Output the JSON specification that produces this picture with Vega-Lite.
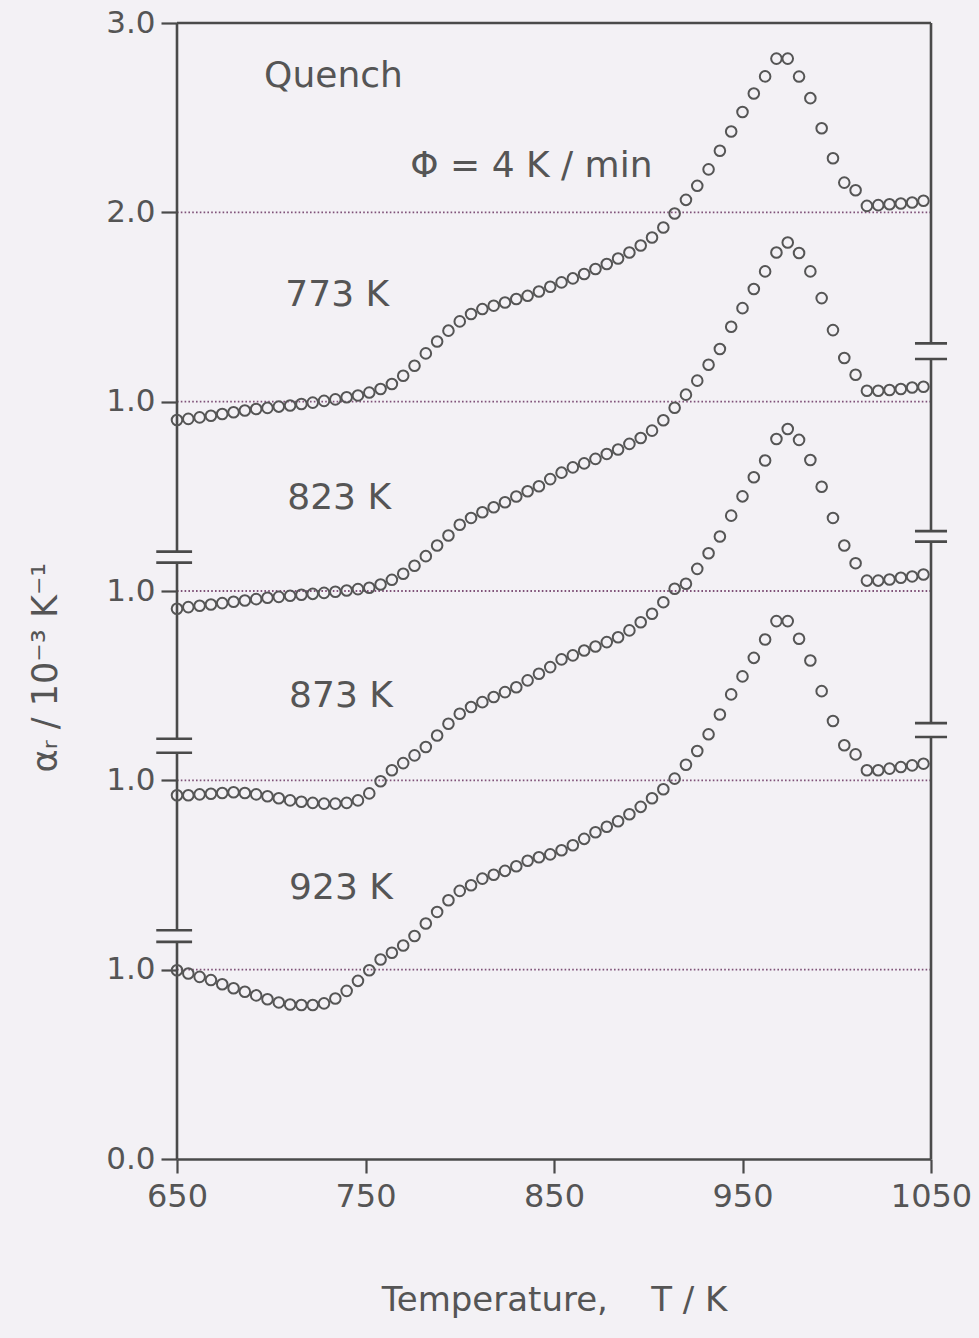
{
  "$schema": "https://vega.github.io/schema/vega-lite/v6.json",
  "width": 754,
  "height": 1136,
  "autosize": {"type": "none"},
  "padding": {"left": 177, "top": 23, "right": 48, "bottom": 179},
  "background": "#f3f1f5",
  "config": {"view": {"stroke": null}, "font": "DejaVu Sans"},
  "datasets": {
    "curves": [
      {"s":"773 K","T":650,"a":3.903},{"s":"773 K","T":656,"a":3.909},{"s":"773 K","T":662,"a":3.917},{"s":"773 K","T":668,"a":3.926},{"s":"773 K","T":674,"a":3.935},{"s":"773 K","T":680,"a":3.944},{"s":"773 K","T":686,"a":3.953},{"s":"773 K","T":692,"a":3.961},{"s":"773 K","T":698,"a":3.967},{"s":"773 K","T":704,"a":3.974},{"s":"773 K","T":710,"a":3.980},{"s":"773 K","T":716,"a":3.988},{"s":"773 K","T":722,"a":3.995},{"s":"773 K","T":728,"a":4.004},{"s":"773 K","T":734,"a":4.012},{"s":"773 K","T":740,"a":4.023},{"s":"773 K","T":746,"a":4.033},{"s":"773 K","T":752,"a":4.048},{"s":"773 K","T":758,"a":4.067},{"s":"773 K","T":764,"a":4.093},{"s":"773 K","T":770,"a":4.137},{"s":"773 K","T":776,"a":4.190},{"s":"773 K","T":782,"a":4.255},{"s":"773 K","T":788,"a":4.318},{"s":"773 K","T":794,"a":4.375},{"s":"773 K","T":800,"a":4.424},{"s":"773 K","T":806,"a":4.463},{"s":"773 K","T":812,"a":4.489},{"s":"773 K","T":818,"a":4.507},{"s":"773 K","T":824,"a":4.524},{"s":"773 K","T":830,"a":4.542},{"s":"773 K","T":836,"a":4.559},{"s":"773 K","T":842,"a":4.582},{"s":"773 K","T":848,"a":4.607},{"s":"773 K","T":854,"a":4.630},{"s":"773 K","T":860,"a":4.651},{"s":"773 K","T":866,"a":4.674},{"s":"773 K","T":872,"a":4.701},{"s":"773 K","T":878,"a":4.727},{"s":"773 K","T":884,"a":4.756},{"s":"773 K","T":890,"a":4.788},{"s":"773 K","T":896,"a":4.825},{"s":"773 K","T":902,"a":4.867},{"s":"773 K","T":908,"a":4.920},{"s":"773 K","T":914,"a":4.994},{"s":"773 K","T":920,"a":5.066},{"s":"773 K","T":926,"a":5.140},{"s":"773 K","T":932,"a":5.227},{"s":"773 K","T":938,"a":5.325},{"s":"773 K","T":944,"a":5.427},{"s":"773 K","T":950,"a":5.530},{"s":"773 K","T":956,"a":5.628},{"s":"773 K","T":962,"a":5.718},{"s":"773 K","T":968,"a":5.812},{"s":"773 K","T":974,"a":5.812},{"s":"773 K","T":980,"a":5.717},{"s":"773 K","T":986,"a":5.603},{"s":"773 K","T":992,"a":5.444},{"s":"773 K","T":998,"a":5.286},{"s":"773 K","T":1004,"a":5.157},{"s":"773 K","T":1010,"a":5.117},{"s":"773 K","T":1016,"a":5.034},{"s":"773 K","T":1022,"a":5.038},{"s":"773 K","T":1028,"a":5.043},{"s":"773 K","T":1034,"a":5.047},{"s":"773 K","T":1040,"a":5.052},{"s":"773 K","T":1046,"a":5.061},
      {"s":"823 K","T":650,"a":2.906},{"s":"823 K","T":656,"a":2.915},{"s":"823 K","T":662,"a":2.922},{"s":"823 K","T":668,"a":2.929},{"s":"823 K","T":674,"a":2.936},{"s":"823 K","T":680,"a":2.943},{"s":"823 K","T":686,"a":2.950},{"s":"823 K","T":692,"a":2.957},{"s":"823 K","T":698,"a":2.964},{"s":"823 K","T":704,"a":2.969},{"s":"823 K","T":710,"a":2.975},{"s":"823 K","T":716,"a":2.980},{"s":"823 K","T":722,"a":2.985},{"s":"823 K","T":728,"a":2.990},{"s":"823 K","T":734,"a":2.996},{"s":"823 K","T":740,"a":3.003},{"s":"823 K","T":746,"a":3.010},{"s":"823 K","T":752,"a":3.017},{"s":"823 K","T":758,"a":3.034},{"s":"823 K","T":764,"a":3.059},{"s":"823 K","T":770,"a":3.091},{"s":"823 K","T":776,"a":3.133},{"s":"823 K","T":782,"a":3.184},{"s":"823 K","T":788,"a":3.240},{"s":"823 K","T":794,"a":3.293},{"s":"823 K","T":800,"a":3.350},{"s":"823 K","T":806,"a":3.386},{"s":"823 K","T":812,"a":3.416},{"s":"823 K","T":818,"a":3.442},{"s":"823 K","T":824,"a":3.469},{"s":"823 K","T":830,"a":3.499},{"s":"823 K","T":836,"a":3.527},{"s":"823 K","T":842,"a":3.553},{"s":"823 K","T":848,"a":3.591},{"s":"823 K","T":854,"a":3.625},{"s":"823 K","T":860,"a":3.653},{"s":"823 K","T":866,"a":3.674},{"s":"823 K","T":872,"a":3.698},{"s":"823 K","T":878,"a":3.724},{"s":"823 K","T":884,"a":3.747},{"s":"823 K","T":890,"a":3.777},{"s":"823 K","T":896,"a":3.808},{"s":"823 K","T":902,"a":3.847},{"s":"823 K","T":908,"a":3.902},{"s":"823 K","T":914,"a":3.968},{"s":"823 K","T":920,"a":4.037},{"s":"823 K","T":926,"a":4.111},{"s":"823 K","T":932,"a":4.195},{"s":"823 K","T":938,"a":4.278},{"s":"823 K","T":944,"a":4.396},{"s":"823 K","T":950,"a":4.494},{"s":"823 K","T":956,"a":4.595},{"s":"823 K","T":962,"a":4.688},{"s":"823 K","T":968,"a":4.788},{"s":"823 K","T":974,"a":4.841},{"s":"823 K","T":980,"a":4.785},{"s":"823 K","T":986,"a":4.688},{"s":"823 K","T":992,"a":4.547},{"s":"823 K","T":998,"a":4.378},{"s":"823 K","T":1004,"a":4.231},{"s":"823 K","T":1010,"a":4.142},{"s":"823 K","T":1016,"a":4.058},{"s":"823 K","T":1022,"a":4.058},{"s":"823 K","T":1028,"a":4.062},{"s":"823 K","T":1034,"a":4.067},{"s":"823 K","T":1040,"a":4.075},{"s":"823 K","T":1046,"a":4.079},
      {"s":"873 K","T":650,"a":1.921},{"s":"873 K","T":656,"a":1.921},{"s":"873 K","T":662,"a":1.926},{"s":"873 K","T":668,"a":1.929},{"s":"873 K","T":674,"a":1.933},{"s":"873 K","T":680,"a":1.937},{"s":"873 K","T":686,"a":1.933},{"s":"873 K","T":692,"a":1.926},{"s":"873 K","T":698,"a":1.916},{"s":"873 K","T":704,"a":1.905},{"s":"873 K","T":710,"a":1.894},{"s":"873 K","T":716,"a":1.887},{"s":"873 K","T":722,"a":1.881},{"s":"873 K","T":728,"a":1.877},{"s":"873 K","T":734,"a":1.877},{"s":"873 K","T":740,"a":1.881},{"s":"873 K","T":746,"a":1.894},{"s":"873 K","T":752,"a":1.931},{"s":"873 K","T":758,"a":1.995},{"s":"873 K","T":764,"a":2.053},{"s":"873 K","T":770,"a":2.091},{"s":"873 K","T":776,"a":2.132},{"s":"873 K","T":782,"a":2.176},{"s":"873 K","T":788,"a":2.237},{"s":"873 K","T":794,"a":2.299},{"s":"873 K","T":800,"a":2.352},{"s":"873 K","T":806,"a":2.387},{"s":"873 K","T":812,"a":2.413},{"s":"873 K","T":818,"a":2.440},{"s":"873 K","T":824,"a":2.466},{"s":"873 K","T":830,"a":2.492},{"s":"873 K","T":836,"a":2.528},{"s":"873 K","T":842,"a":2.563},{"s":"873 K","T":848,"a":2.598},{"s":"873 K","T":854,"a":2.639},{"s":"873 K","T":860,"a":2.660},{"s":"873 K","T":866,"a":2.686},{"s":"873 K","T":872,"a":2.707},{"s":"873 K","T":878,"a":2.730},{"s":"873 K","T":884,"a":2.756},{"s":"873 K","T":890,"a":2.792},{"s":"873 K","T":896,"a":2.835},{"s":"873 K","T":902,"a":2.880},{"s":"873 K","T":908,"a":2.941},{"s":"873 K","T":914,"a":3.012},{"s":"873 K","T":920,"a":3.038},{"s":"873 K","T":926,"a":3.117},{"s":"873 K","T":932,"a":3.199},{"s":"873 K","T":938,"a":3.288},{"s":"873 K","T":944,"a":3.398},{"s":"873 K","T":950,"a":3.500},{"s":"873 K","T":956,"a":3.601},{"s":"873 K","T":962,"a":3.689},{"s":"873 K","T":968,"a":3.803},{"s":"873 K","T":974,"a":3.856},{"s":"873 K","T":980,"a":3.798},{"s":"873 K","T":986,"a":3.692},{"s":"873 K","T":992,"a":3.551},{"s":"873 K","T":998,"a":3.386},{"s":"873 K","T":1004,"a":3.240},{"s":"873 K","T":1010,"a":3.147},{"s":"873 K","T":1016,"a":3.055},{"s":"873 K","T":1022,"a":3.055},{"s":"873 K","T":1028,"a":3.061},{"s":"873 K","T":1034,"a":3.070},{"s":"873 K","T":1040,"a":3.077},{"s":"873 K","T":1046,"a":3.087},
      {"s":"923 K","T":650,"a":0.997},{"s":"923 K","T":656,"a":0.980},{"s":"923 K","T":662,"a":0.962},{"s":"923 K","T":668,"a":0.945},{"s":"923 K","T":674,"a":0.923},{"s":"923 K","T":680,"a":0.902},{"s":"923 K","T":686,"a":0.883},{"s":"923 K","T":692,"a":0.864},{"s":"923 K","T":698,"a":0.844},{"s":"923 K","T":704,"a":0.827},{"s":"923 K","T":710,"a":0.816},{"s":"923 K","T":716,"a":0.813},{"s":"923 K","T":722,"a":0.813},{"s":"923 K","T":728,"a":0.822},{"s":"923 K","T":734,"a":0.848},{"s":"923 K","T":740,"a":0.888},{"s":"923 K","T":746,"a":0.941},{"s":"923 K","T":752,"a":0.997},{"s":"923 K","T":758,"a":1.054},{"s":"923 K","T":764,"a":1.089},{"s":"923 K","T":770,"a":1.128},{"s":"923 K","T":776,"a":1.178},{"s":"923 K","T":782,"a":1.244},{"s":"923 K","T":788,"a":1.305},{"s":"923 K","T":794,"a":1.367},{"s":"923 K","T":800,"a":1.416},{"s":"923 K","T":806,"a":1.446},{"s":"923 K","T":812,"a":1.481},{"s":"923 K","T":818,"a":1.501},{"s":"923 K","T":824,"a":1.522},{"s":"923 K","T":830,"a":1.546},{"s":"923 K","T":836,"a":1.575},{"s":"923 K","T":842,"a":1.594},{"s":"923 K","T":848,"a":1.609},{"s":"923 K","T":854,"a":1.631},{"s":"923 K","T":860,"a":1.657},{"s":"923 K","T":866,"a":1.691},{"s":"923 K","T":872,"a":1.726},{"s":"923 K","T":878,"a":1.755},{"s":"923 K","T":884,"a":1.784},{"s":"923 K","T":890,"a":1.821},{"s":"923 K","T":896,"a":1.860},{"s":"923 K","T":902,"a":1.905},{"s":"923 K","T":908,"a":1.953},{"s":"923 K","T":914,"a":2.009},{"s":"923 K","T":920,"a":2.082},{"s":"923 K","T":926,"a":2.155},{"s":"923 K","T":932,"a":2.243},{"s":"923 K","T":938,"a":2.348},{"s":"923 K","T":944,"a":2.454},{"s":"923 K","T":950,"a":2.549},{"s":"923 K","T":956,"a":2.647},{"s":"923 K","T":962,"a":2.744},{"s":"923 K","T":968,"a":2.841},{"s":"923 K","T":974,"a":2.841},{"s":"923 K","T":980,"a":2.748},{"s":"923 K","T":986,"a":2.633},{"s":"923 K","T":992,"a":2.471},{"s":"923 K","T":998,"a":2.313},{"s":"923 K","T":1004,"a":2.185},{"s":"923 K","T":1010,"a":2.137},{"s":"923 K","T":1016,"a":2.053},{"s":"923 K","T":1022,"a":2.053},{"s":"923 K","T":1028,"a":2.062},{"s":"923 K","T":1034,"a":2.070},{"s":"923 K","T":1040,"a":2.079},{"s":"923 K","T":1046,"a":2.088}
    ],
    "baselines": [
      {"T": 650, "T2": 1050, "a": 1},
      {"T": 650, "T2": 1050, "a": 2},
      {"T": 650, "T2": 1050, "a": 3},
      {"T": 650, "T2": 1050, "a": 4},
      {"T": 650, "T2": 1050, "a": 5}
    ],
    "frame": [
      {"T": 650, "T2": 650, "a": 0, "a2": 1.147},
      {"T": 650, "T2": 650, "a": 1.208, "a2": 2.146},
      {"T": 650, "T2": 650, "a": 2.220, "a2": 3.150},
      {"T": 650, "T2": 650, "a": 3.208, "a2": 6},
      {"T": 1050, "T2": 1050, "a": 0, "a2": 2.229},
      {"T": 1050, "T2": 1050, "a": 2.302, "a2": 3.261},
      {"T": 1050, "T2": 1050, "a": 3.316, "a2": 4.225},
      {"T": 1050, "T2": 1050, "a": 4.308, "a2": 6},
      {"T": 650, "T2": 1050, "a": 6, "a2": 6},
      {"T": 639, "T2": 658, "a": 1.147, "a2": 1.147},
      {"T": 639, "T2": 658, "a": 1.208, "a2": 1.208},
      {"T": 639, "T2": 658, "a": 2.146, "a2": 2.146},
      {"T": 639, "T2": 658, "a": 2.220, "a2": 2.220},
      {"T": 639, "T2": 658, "a": 3.150, "a2": 3.150},
      {"T": 639, "T2": 658, "a": 3.208, "a2": 3.208},
      {"T": 1041.5, "T2": 1058.5, "a": 2.229, "a2": 2.229},
      {"T": 1041.5, "T2": 1058.5, "a": 2.302, "a2": 2.302},
      {"T": 1041.5, "T2": 1058.5, "a": 3.261, "a2": 3.261},
      {"T": 1041.5, "T2": 1058.5, "a": 3.316, "a2": 3.316},
      {"T": 1041.5, "T2": 1058.5, "a": 4.225, "a2": 4.225},
      {"T": 1041.5, "T2": 1058.5, "a": 4.308, "a2": 4.308}
    ],
    "notes": [
      {"label": "Quench", "T": 733, "a": 5.72},
      {"label": "Φ = 4 K / min", "T": 838, "a": 5.245},
      {"label": "773 K", "T": 735, "a": 4.565},
      {"label": "823 K", "T": 736, "a": 3.49},
      {"label": "873 K", "T": 737, "a": 2.443},
      {"label": "923 K", "T": 737, "a": 1.43}
    ]
  },
  "encoding": {
    "x": {
      "field": "T", "type": "quantitative",
      "scale": {"domain": [650, 1050], "nice": false, "zero": false},
      "axis": {
        "values": [650, 750, 850, 950, 1050], "format": "d",
        "domain": true, "domainColor": "#4a4a4a", "domainWidth": 2.6,
        "ticks": true, "tickColor": "#4a4a4a", "tickWidth": 2.2, "tickSize": 14,
        "labelFont": "DejaVu Sans", "labelFontSize": 32, "labelColor": "#555555", "labelPadding": 8,
        "labelFlush": false, "labelOverlap": false,
        "grid": false,
        "title": "Temperature,\u00a0\u00a0\u00a0\u00a0T / K",
        "titleFont": "DejaVu Sans", "titleFontSize": 34, "titleFontWeight": "normal", "titleColor": "#555555",
        "titleY": 141, "titleBaseline": "middle"
      }
    },
    "y": {
      "field": "a", "type": "quantitative",
      "scale": {"domain": [0, 6], "nice": false, "zero": false},
      "axis": {
        "values": [0, 1, 2, 3, 4, 5, 6],
        "labelExpr": "datum.value == 0 ? '0.0' : datum.value == 5 ? '2.0' : datum.value == 6 ? '3.0' : '1.0'",
        "labelFlush": false, "labelOverlap": false,
        "domain": false,
        "ticks": true, "tickColor": "#4a4a4a", "tickWidth": 2.2, "tickSize": 16,
        "labelFont": "DejaVu Sans", "labelFontSize": 31, "labelColor": "#555555", "labelPadding": 6,
        "grid": false,
        "title": "αᵣ / 10⁻³ K⁻¹",
        "titleFont": "DejaVu Sans", "titleFontSize": 35, "titleFontWeight": "normal", "titleColor": "#555555",
        "titleX": -132, "titleY": 644, "titleAlign": "center", "titleBaseline": "middle", "titleAngle": -90
      }
    }
  },
  "layer": [
    {
      "data": {"name": "baselines"},
      "mark": {"type": "rule", "color": "#7f5278", "strokeWidth": 1.8, "strokeDash": [1.6, 2.2]},
      "encoding": {"x2": {"field": "T2"}}
    },
    {
      "data": {"name": "frame"},
      "mark": {"type": "rule", "color": "#4a4a4a", "strokeWidth": 2.6},
      "encoding": {"x2": {"field": "T2"}, "y2": {"field": "a2"}}
    },
    {
      "data": {"name": "curves"},
      "mark": {"type": "point", "shape": "circle", "filled": false, "size": 112, "strokeWidth": 2, "color": "#555555", "opacity": 1},
      "encoding": {"detail": {"field": "s", "type": "nominal"}}
    },
    {
      "data": {"name": "notes"},
      "mark": {"type": "text", "font": "DejaVu Sans", "fontSize": 36, "color": "#555555", "align": "center", "baseline": "middle"},
      "encoding": {"text": {"field": "label", "type": "nominal"}}
    }
  ]
}
